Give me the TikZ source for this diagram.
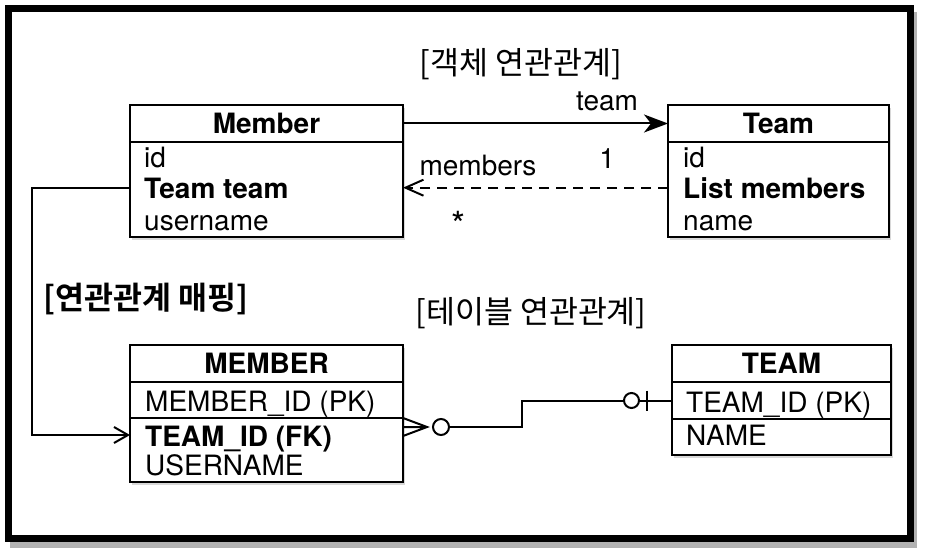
\documentclass[tikz,border=0pt]{standalone}
\usepackage{fontspec}
\setmainfont{TeX Gyre Heros}
\newfontfamily\kr{Noto Sans CJK KR}[BoldFont={Noto Sans CJK KR Bold}]
\usetikzlibrary{positioning,arrows.meta,shadows}

\tikzset{
  tbl/.style={draw, fill=white, line width=2pt, inner sep=0pt, outer sep=0pt,
    drop shadow={shadow xshift=2pt, shadow yshift=-3pt, opacity=.3}},
  hdr/.style={tbl, anchor=north west, minimum height=37pt,
    font=\fontsize{28}{32}\selectfont\bfseries},
  fld/.style={anchor=base west, inner sep=0pt, font=\fontsize{28}{32}\selectfont},
  lbl/.style={inner sep=0pt, font=\fontsize{28}{32}\selectfont},
  ttl/.style={inner sep=0pt, font=\fontsize{31.5}{35}\selectfont\kr},
  link/.style={line width=2pt},
  erdot/.style={circle, draw, fill=white, line width=2pt, inner sep=0pt},
}

\begin{document}
\begin{tikzpicture}[x=1pt, y=-1pt]
\useasboundingbox (0,0) rectangle (931,559);
% frame
\fill[black!30] (10,12) rectangle (917,548);
\draw[line width=7pt, fill=white] (8.5,8.5) rectangle (910.5,538.5);

% object model
\node[hdr, minimum width=273pt] (member) at (130,105) {Member};
\node[tbl, minimum width=273pt, minimum height=95pt, below=0pt of member] (mbody) {};
\node[hdr, minimum width=221pt] (team) at (668,105) {Team};
\node[tbl, minimum width=221pt, minimum height=95pt, below=0pt of team] (tbody) {};

\node[fld] (mid) at (144,167) {id};
\node[fld] (mteam) at (144,198) {\bfseries Team team};
\node[fld] (muser) at (144,230) {username};
\node[fld] (tid) at (683,167) {id};
\node[fld] (tlist) at (683,198) {\bfseries List members};
\node[fld] (tnm) at (683,230) {name};

% tables
\node[hdr, minimum width=273pt] (mtable) at (130,345) {MEMBER};
\node[tbl, minimum width=273pt, minimum height=36pt, below=0pt of mtable] (mpk) {};
\node[tbl, minimum width=273pt, minimum height=64pt, below=0pt of mpk] (mfk) {};
\node[hdr, minimum width=219pt] (ttable) at (672,345) {TEAM};
\node[tbl, minimum width=219pt, minimum height=37pt, below=0pt of ttable] (tpk) {};
\node[tbl, minimum width=219pt, minimum height=36pt, below=0pt of tpk] (tnamerow) {};

\node[fld] (mpkid) at (145,411) {MEMBER\_ID (PK)};
\node[fld] (mfkid) at (145,446) {\bfseries TEAM\_ID (FK)};
\node[fld] (muname) at (145,475) {USERNAME};
\node[fld] (tpkid) at (686,412) {TEAM\_ID (PK)};
\node[fld] (tname) at (686,445) {NAME};

% titles
\node[ttl] (objtitle) at (521,64) {[객체 연관관계]};
\node[ttl] (maptitle) at (146,299) {\bfseries [연관관계 매핑]};
\node[ttl] (tbltitle) at (531,313) {[테이블 연관관계]};

% references
\draw[link, -{Stealth[length=24pt, width=18pt, inset=7pt]}] (member.east) -- (team.west)
  node[lbl, pos=.77, above=12pt] (teamlbl) {team}
  node[lbl, pos=.77, below=24pt] (onelbl) {1};
\draw[link, dash pattern=on 10pt off 7pt, -{Straight Barb[length=18pt, width=16pt]}]
  (tlist -| tbody.west) -- (tlist -| mbody.east)
  node[lbl, pos=.717, above=11pt] (memberslbl) {members}
  node[lbl, pos=.79, below=23pt, font=\fontsize{36}{40}\selectfont] (manylbl) {*};

% mapping
\draw[link, -{Straight Barb[length=14pt, width=16pt]}]
  (mteam -| mbody.west) -- ++(-98,0) |- ([yshift=-17pt]mfk.north west);

% foreign key
\coordinate (crow) at ([yshift=-9pt]mfk.north east);
\coordinate (cftip) at ([xshift=24pt]crow);
\draw[link] (mfk.north east) -- (cftip) -- ([yshift=-18pt]mfk.north east)
  (crow) -- (cftip);
\node[erdot, minimum size=16pt, right=5pt of cftip] (mcirc) {};
\node[erdot, minimum size=15pt, left=32pt of tpk.west] (tcirc) {};
\draw[link] (mcirc.east) -- ++(72,0) |- (tcirc.west);
\draw[link] (tcirc.east) -- (tpk.west);
\draw[link] ([xshift=7pt, yshift=10pt]tcirc.east) -- ([xshift=7pt, yshift=-10pt]tcirc.east);
\end{tikzpicture}
\end{document}
